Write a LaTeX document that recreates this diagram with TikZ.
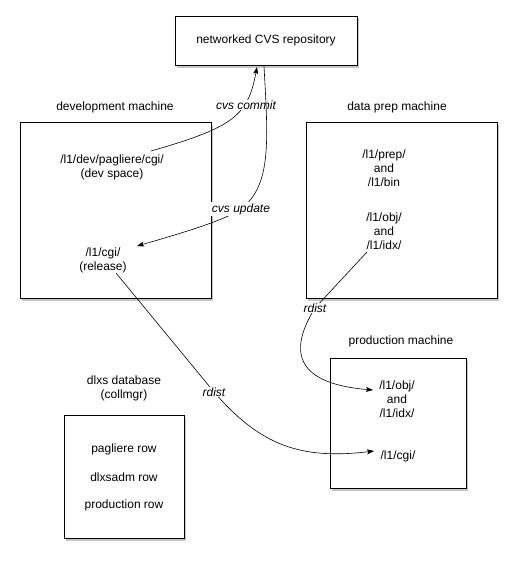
\documentclass[tikz,border=0pt]{standalone}
\usepackage{fontspec}
\setmainfont{Liberation Sans}
\usetikzlibrary{arrows.meta,shadows}
\begin{document}
\begin{tikzpicture}[x=1pt,y=-1pt,
  font=\fontsize{12}{14}\selectfont,
  box/.style={draw=black, line width=0.8pt, fill=white, inner sep=0pt,
    drop shadow={shadow xshift=2pt, shadow yshift=-3pt, fill=black, opacity=0.22}},
  txt/.style={align=center, inner sep=0pt},
  edgelbl/.style={font=\fontsize{12}{14}\selectfont\itshape, fill=white, inner sep=1pt},
  conn/.style={line width=0.6pt, -{Stealth[length=7pt,width=5pt,inset=1.5pt]}}]
\useasboundingbox (0,0) rectangle (517,563);
\fill[white] (0,0) rectangle (517,563);

% boxes
\node[box, minimum width=182pt, minimum height=49pt] (cvs) at (266,40.5) {networked CVS repository};
\node[box, minimum width=191pt, minimum height=176pt] (dev) at (115.5,210) {};
\node[box, minimum width=191pt, minimum height=176pt] (prep) at (401.5,210) {};
\node[box, minimum width=136pt, minimum height=130pt] (prod) at (398,423) {};
\node[box, minimum width=120pt, minimum height=123pt] (db) at (124,476.5) {};

% box titles
\node[txt] (devt) at (115,107) {development machine};
\node[txt] (prept) at (397,107) {data prep machine};
\node[txt] (prodt) at (401,341) {production machine};
\node[txt] (dbt) at (124,388) {dlxs database\\(collmgr)};

% contents
\node[txt] (devspace) at (112,167) {/l1/dev/pagliere/cgi/\\(dev space)};
\node[txt] (release) at (103,260) {/l1/cgi/\\(release)};
\node[txt] (prepbin) at (384,168.5) {/l1/prep/\\and\\/l1/bin};
\node[txt] (prepobj) at (384,231) {/l1/obj/\\and\\/l1/idx/};
\node[txt] (prodobj) at (397,399) {/l1/obj/\\and\\/l1/idx/};
\node[txt] (prodcgi) at (398,456) {/l1/cgi/};
\node[txt] (row1) at (124,449) {pagliere row};
\node[txt] (row2) at (124,477) {dlxsadm row};
\node[txt] (row3) at (124,505) {production row};

% connector end points
\coordinate (c1s) at (151,151);
\coordinate (c1e) at (257,67);
\coordinate (c2s) at (264,66);
\coordinate (c2m) at (241,209);
\coordinate (c2e) at (137,246);
\coordinate (r1s) at (116,273);
\coordinate (r1m) at (214,392);
\coordinate (r1e) at (374,451);
\coordinate (r2s) at (367,252);
\coordinate (r2m) at (315,308);
\coordinate (r2e) at (373,390);

% cvs commit
\draw[conn] (c1s) .. controls (235,127) and (248,115) .. (c1e);
\node[edgelbl] (commitl) at (246,105) {cvs commit};
% cvs update
\draw[conn] (c2s) .. controls (268,140) and (272,185) .. (c2m)
  .. controls (228,218) and (200,228) .. (c2e);
\node[edgelbl] (updatel) at (c2m) {cvs update};
% rdist dev -> prod
\draw[conn] (r1s) -- (r1m) .. controls (260,445) and (300,460) .. (r1e);
\node[edgelbl] (rdist1) at (r1m) {rdist};
% rdist prep -> prod
\draw[conn] (r2s) -- (r2m) .. controls (292,345) and (288,383) .. (r2e);
\node[edgelbl] (rdist2) at (r2m) {rdist};
\end{tikzpicture}
\end{document}
